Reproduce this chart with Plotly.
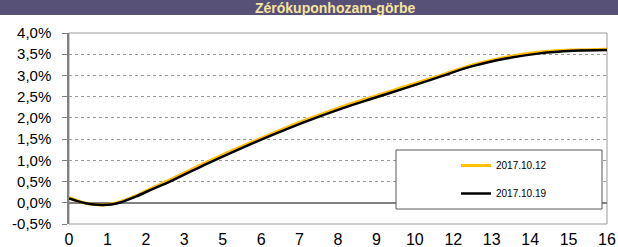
import plotly.graph_objects as go

# Data: maturity (years) and zero-coupon yields (%)
years = [0, 0.25, 0.5, 0.75, 1.0, 1.25, 1.5, 2, 2.5, 3, 4, 5, 6, 7, 8, 9, 10, 11, 12, 13, 14, 15, 16]
yield_1012 = [0.12, 0.05, -0.01, -0.04, -0.05, -0.03, 0.02, 0.17, 0.36, 0.54, 0.92, 1.28, 1.62, 1.94, 2.23, 2.49, 2.74, 2.99, 3.25, 3.43, 3.55, 3.60, 3.62]
yield_1019 = [0.10, 0.04, -0.01, -0.04, -0.05, -0.04, 0.00, 0.15, 0.33, 0.50, 0.88, 1.24, 1.58, 1.90, 2.19, 2.45, 2.70, 2.96, 3.22, 3.40, 3.52, 3.58, 3.60]

x_tick_labels = ["0", "1", "2", "3", "5", "6", "7", "8", "9", "10", "12", "13", "14", "15", "16"]
y_tick_vals = [-0.5, 0.0, 0.5, 1.0, 1.5, 2.0, 2.5, 3.0, 3.5, 4.0]
y_tick_labels = ["-0,5%", "0,0%", "0,5%", "1,0%", "1,5%", "2,0%", "2,5%", "3,0%", "3,5%", "4,0%"]
series_names = ["2017.10.12", "2017.10.19"]
title_text = "Zérókuponhozam-görbe"

x_max = 16
x_tick_vals = [i * x_max / (len(x_tick_labels) - 1) for i in range(len(x_tick_labels))]

fig = go.Figure()
fig.add_trace(go.Scatter(x=years, y=yield_1012, mode="lines", name=series_names[0],
                         line=dict(color="#FFC000", width=3, shape="spline"), legendgroup="a"))
fig.add_trace(go.Scatter(x=years, y=yield_1019, mode="lines", name=series_names[1],
                         line=dict(color="#000000", width=2.5, shape="spline"), legendgroup="b"))

W, H = 618, 247
L, R, T, B = 69, 11, 33, 23
ph = H - T - B
pw = W - L - R

def py(p):
    return (H - B - p) / ph

def px(p):
    return (p - L) / pw

fig.update_layout(
    width=W, height=H,
    margin=dict(l=L, r=R, t=T, b=B, autoexpand=False),
    paper_bgcolor="white", plot_bgcolor="white",
    font=dict(family="Liberation Sans, Arial", color="#000000"),
    showlegend=True,
    legend=dict(x=px(456), y=py(151), xanchor="left", yanchor="top",
                bgcolor="rgba(0,0,0,0)", borderwidth=0,
                font=dict(size=10, family="Liberation Sans, Arial"),
                tracegroupgap=9, itemwidth=30),
    xaxis=dict(range=[0, x_max], tickvals=x_tick_vals, ticktext=x_tick_labels,
               showgrid=False, zeroline=False, showline=False, automargin=False,
               ticks="", tickfont=dict(size=16), ticklabelstandoff=4),
    yaxis=dict(range=[-0.5, 4.0], tickvals=y_tick_vals, ticktext=y_tick_labels,
               showgrid=True, gridcolor="#9a9a9a", griddash="dot", gridwidth=1,
               zeroline=True, zerolinecolor="#808080", zerolinewidth=1.5,
               showline=True, linecolor="#808080", linewidth=1.5, automargin=False,
               ticks="outside", ticklen=5, tickcolor="#808080", ticklabelstandoff=8,
               tickfont=dict(size=15)),
    shapes=[
        # plot frame
        dict(type="rect", xref="paper", yref="paper", x0=0, x1=1, y0=0, y1=1,
             line=dict(color="#9a9a9a", width=1), fillcolor="rgba(0,0,0,0)", layer="below"),
        # legend frame
        dict(type="rect", xref="paper", yref="paper", x0=px(396), x1=px(602), y0=py(209), y1=py(150),
             line=dict(color="#595959", width=1), fillcolor="white", layer="above"),
        # title bar
        dict(type="rect", xref="paper", yref="paper", x0=-L / pw, x1=1 + R / pw, y0=py(15), y1=py(-5),
             line=dict(width=0), fillcolor="#575177", layer="above"),
    ],
    annotations=[
        dict(text="<b>" + title_text + "</b>", xref="paper", yref="paper",
             x=px(335), y=py(8), xanchor="center", yanchor="middle", showarrow=False,
             font=dict(size=14, color="#F7E49E", family="Liberation Sans, Arial")),
    ],
)

fig.write_html("out.html", config={"displayModeBar": False},
               post_script="document.body.style.margin='0';document.body.style.padding='0';")
